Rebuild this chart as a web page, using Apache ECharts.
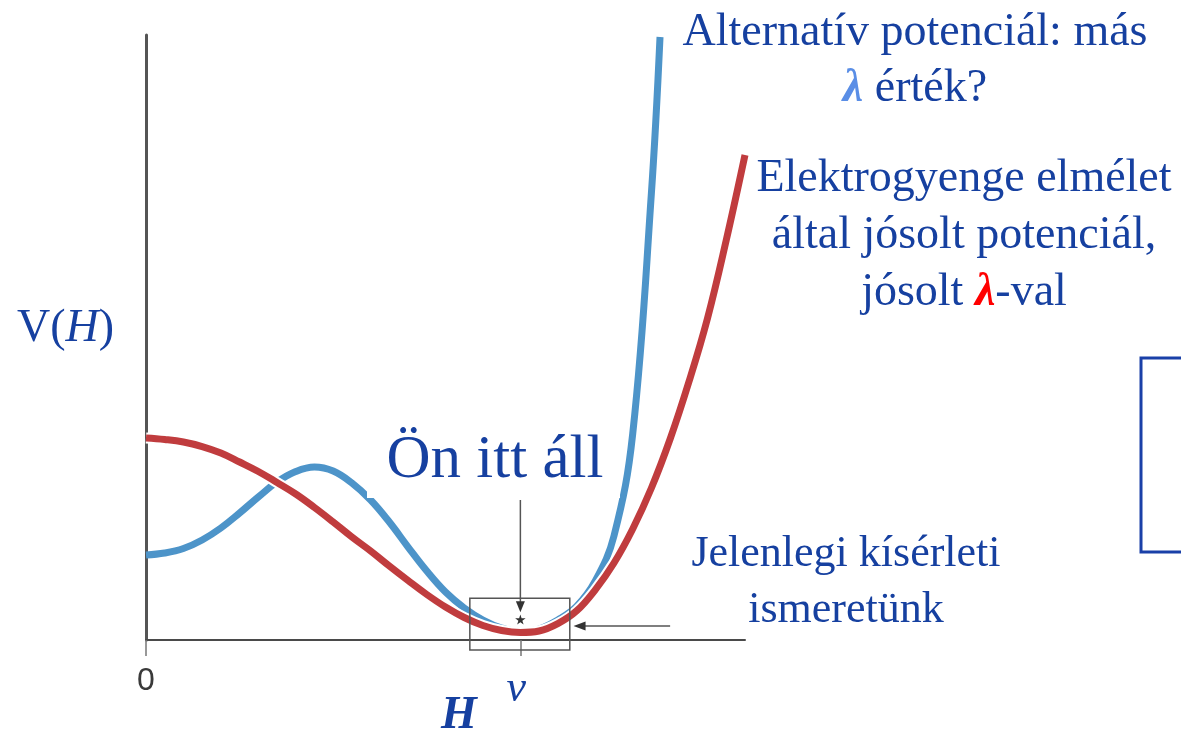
<!DOCTYPE html>
<html>
<head>
<meta charset="utf-8">
<script src="https://cdn.jsdelivr.net/npm/echarts@6/dist/echarts.min.js"></script>
<style>
  html, body { margin: 0; padding: 0; background: #ffffff; }
  #chart { width: 1181px; height: 730px; }
</style>
</head>
<body>
<div id="chart"></div>
<script>
// Higgs field value H (in units of v) and potential V(H), arbitrary units
const smH = [0, 0.05, 0.10, 0.15, 0.20, 0.25, 0.30, 0.35, 0.40, 0.45, 0.50, 0.55, 0.60, 0.65, 0.70, 0.75, 0.80, 0.85, 0.90, 0.95, 1.00, 1.05, 1.10, 1.15, 1.20, 1.25, 1.30, 1.35, 1.40, 1.45, 1.50, 1.55, 1.60];
const smV = [0.3339, 0.3314, 0.3273, 0.3198, 0.3091, 0.2942, 0.2785, 0.2603, 0.2413, 0.2190, 0.1950, 0.1702, 0.1471, 0.1223, 0.0983, 0.0752, 0.0545, 0.0372, 0.0240, 0.0157, 0.0124, 0.0149, 0.0270, 0.0480, 0.0830, 0.1273, 0.1835, 0.2512, 0.3322, 0.4264, 0.5322, 0.6612, 0.8017];

const altH = [0, 0.05, 0.10, 0.15, 0.20, 0.25, 0.30, 0.35, 0.40, 0.45, 0.50, 0.55, 0.60, 0.65, 0.70, 0.75, 0.80, 0.85, 0.90, 0.95, 1.00, 1.05, 1.10, 1.15, 1.20, 1.25, 1.30, 1.35, 1.373];
const altV = [0.1405, 0.1438, 0.1512, 0.1653, 0.1851, 0.2099, 0.2364, 0.2612, 0.2785, 0.2860, 0.2793, 0.2595, 0.2314, 0.1950, 0.1537, 0.1140, 0.0793, 0.0529, 0.0331, 0.0198, 0.0140, 0.0182, 0.0331, 0.0554, 0.0975, 0.1719, 0.3405, 0.7388, 0.9967];

// Tick marks on the H axis
const hTickValues = [0, 1];
const hTickLabels = ['0', 'v'];

// Experimental window around the minimum
const boxH = [0.865, 1.132];
const boxV = [-0.0165, 0.069];
const starPoint = [1, 0.033];
const downArrow = [[1, 0.235], [1, 0.046]];
const leftArrow = [[1.40, 0.023], [1.142, 0.023]];

const TEXT_BLUE = '#1640a0';
const SERIF = '"Liberation Serif", "DejaVu Serif", serif';

const zip = (xs, ys) => xs.map((x, i) => [x, ys[i]]);

const chart = echarts.init(document.getElementById('chart'), null, { renderer: 'canvas' });

chart.setOption({
  animation: false,
  backgroundColor: '#ffffff',
  grid: { left: 146, top: 35, width: 599, height: 605, outerBoundsMode: 'none' },
  xAxis: {
    type: 'value', min: 0, max: 1.6,
    axisLine: { lineStyle: { color: '#4a4a4a', width: 2 } },
    axisTick: { customValues: hTickValues, length: 16, lineStyle: { color: '#777', width: 1.5 } },
    axisLabel: {
      customValues: hTickValues,
      margin: 25,
      formatter: (val) => {
        const i = hTickValues.indexOf(val);
        const t = i >= 0 ? hTickLabels[i] : '';
        return i === 0 ? '{z|' + t + '}' : '{v|' + t + '}';
      },
      rich: {
        z: { fontFamily: '"Liberation Sans", Arial, sans-serif', fontSize: 32, color: '#3a3a3a' },
        v: { fontFamily: SERIF, fontStyle: 'italic', fontSize: 44, color: TEXT_BLUE, padding: [2, 0, 0, -8] }
      }
    },
    splitLine: { show: false }
  },
  yAxis: {
    type: 'value', min: 0, max: 1,
    axisLine: { show: true, lineStyle: { color: '#555', width: 3 } },
    axisTick: { show: false },
    axisLabel: { show: false },
    splitLine: { show: false }
  },
  series: [
    {
      name: 'alternative', type: 'line', data: zip(altH, altV),
      smooth: 0.4, showSymbol: false, clip: false, z: 2,
      lineStyle: { color: '#4d94c9', width: 7 }
    },
    {
      name: 'sm-halo', type: 'line', data: zip(smH, smV),
      smooth: 0.4, showSymbol: false, clip: false, z: 3, silent: true,
      lineStyle: { color: '#ffffff', width: 11 }
    },
    {
      name: 'standard', type: 'line', data: zip(smH, smV),
      smooth: 0.4, showSymbol: false, clip: false, z: 4,
      lineStyle: { color: '#c03c3e', width: 7 }
    }
  ]
});

// five-pointed star outline on a unit square
const STAR = [[0.5, 0], [0.612, 0.346], [0.976, 0.346], [0.681, 0.559], [0.794, 0.905], [0.5, 0.69], [0.206, 0.905], [0.319, 0.559], [0.024, 0.346], [0.388, 0.346]];

function buildGraphics() {
  const px = (p) => chart.convertToPixel({ gridIndex: 0 }, p);
  const b0 = px([boxH[0], boxV[1]]);
  const b1 = px([boxH[1], boxV[0]]);
  const star = px(starPoint);
  const dA = px(downArrow[0]), dB = px(downArrow[1]);
  const lA = px(leftArrow[0]), lB = px(leftArrow[1]);
  const gray = '#555';
  const S = 11;

  const elements = [
    // white panel behind the "you are here" label
    { type: 'rect', shape: { x: 367, y: 413, width: 253, height: 85 }, style: { fill: '#ffffff' }, z: 10 },
    { type: 'text', x: 495, y: 461, z: 11,
      style: { text: 'Ön itt áll', font: '61px ' + SERIF, fill: TEXT_BLUE, align: 'center', verticalAlign: 'middle' } },

    // experimental window
    { type: 'rect', shape: { x: b0[0], y: b0[1], width: b1[0] - b0[0], height: b1[1] - b0[1] },
      style: { fill: 'none', stroke: gray, lineWidth: 1.5 }, z: 10 },
    { type: 'line', shape: { x1: dA[0], y1: 500, x2: dB[0], y2: dB[1] - 8 }, style: { stroke: gray, lineWidth: 1.5 }, z: 10 },
    { type: 'polygon', shape: { points: [[dB[0] - 4.5, dB[1] - 11], [dB[0] + 4.5, dB[1] - 11], [dB[0], dB[1]]] }, style: { fill: '#333' }, z: 10 },
    { type: 'line', shape: { x1: lA[0], y1: lA[1], x2: lB[0] + 9, y2: lB[1] }, style: { stroke: gray, lineWidth: 1.5 }, z: 10 },
    { type: 'polygon', shape: { points: [[lB[0] + 12, lB[1] - 4.5], [lB[0] + 12, lB[1] + 4.5], [lB[0], lB[1]]] }, style: { fill: '#333' }, z: 10 },
    { type: 'polygon', z: 10,
      shape: { points: STAR.map(([u, w]) => [star[0] - S / 2 + u * S, star[1] - S / 2 + w * S]) },
      style: { fill: '#333' } },

    // axis names
    { type: 'text', x: 17, y: 329, z: 11,
      style: { text: '{n|V(}{i|H}{n|)}', verticalAlign: 'middle',
        rich: { n: { font: '46px ' + SERIF, fill: TEXT_BLUE }, i: { font: 'italic 46px ' + SERIF, fill: TEXT_BLUE } } } },
    { type: 'text', x: 459, y: 716, z: 11,
      style: { text: 'H', font: 'italic bold 46px ' + SERIF, fill: TEXT_BLUE, align: 'center', verticalAlign: 'middle' } },

    // curve annotations
    { type: 'text', x: 915, y: 33, z: 11,
      style: { text: 'Alternatív potenciál: más\n{lb|λ} érték?', font: '46px ' + SERIF, fill: TEXT_BLUE,
        align: 'center', verticalAlign: 'top', lineHeight: 56,
        rich: { lb: { font: 'italic bold 46px ' + SERIF, fill: '#5a8ee6', lineHeight: 56 } } } },
    { type: 'text', x: 964, y: 179, z: 11,
      style: { text: 'Elektrogyenge elmélet\náltal jósolt potenciál,\njósolt {lr|λ}-val', font: '46px ' + SERIF, fill: TEXT_BLUE,
        align: 'center', verticalAlign: 'top', lineHeight: 57,
        rich: { lr: { font: 'italic bold 46px ' + SERIF, fill: '#ff0000', lineHeight: 57 } } } },
    { type: 'text', x: 846, y: 554, z: 11,
      style: { text: 'Jelenlegi kísérleti\nismeretünk', font: '44px ' + SERIF, fill: TEXT_BLUE,
        align: 'center', verticalAlign: 'top', lineHeight: 56 } },

    // side bracket
    { type: 'polyline', shape: { points: [[1181, 358], [1141, 358], [1141, 552], [1181, 552]] },
      style: { stroke: '#1a40a8', lineWidth: 3, fill: 'none' }, z: 10 }
  ];
  // top-aligned text blocks: shift so the first line's middle sits at the given y
  elements.forEach(el => {
    if (el.type === 'text' && el.style.verticalAlign === 'top') {
      el.y -= el.style.lineHeight / 2;
    }
  });
  chart.setOption({ graphic: { elements } });
}
buildGraphics();
</script>
</body>
</html>
